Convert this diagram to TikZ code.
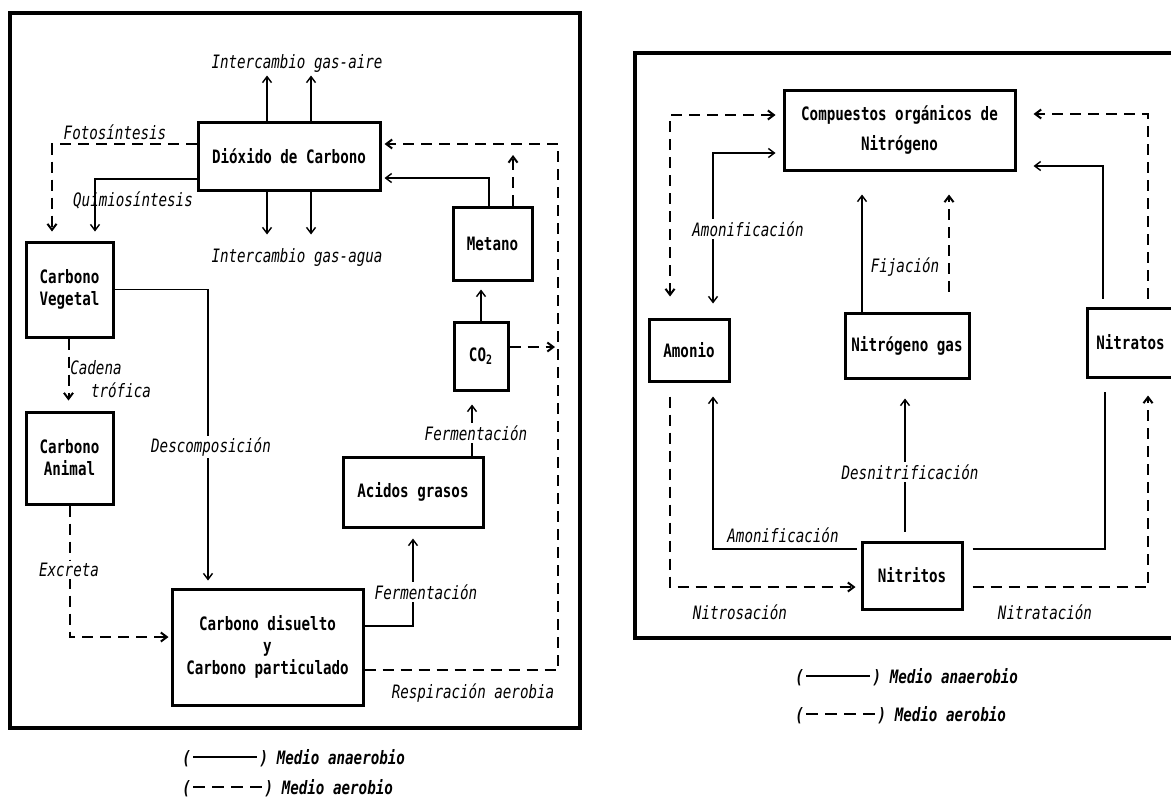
\documentclass[tikz,border=0pt]{standalone}
\usepackage{fontspec}
\setmainfont{DejaVu Sans Mono}
\usepackage{graphicx}
\usepackage{tikz}
\usetikzlibrary{arrows.meta, calc}
\newcommand\dsize{\fontsize{7.1pt}{11pt}\selectfont}
\newcommand\tx[1]{\scalebox{1}[1.3]{#1}}

\begin{document}
\begin{tikzpicture}[
    x=0.5pt, y=-0.5pt,
    box/.style={draw,line width=1.5pt,inner sep=0pt,align=center,
      font=\dsize\bfseries},
    lbl/.style={font=\dsize\itshape,inner sep=1pt},
    clbl/.style={lbl,fill=white},
    legend/.style={font=\dsize\bfseries\itshape,anchor=west,inner sep=0pt},
    anaer/.style={line width=0.7pt},
    aero/.style={line width=1pt,dash pattern=on 5.5pt off 3.5pt},
    frame/.style={line width=2pt},
    >={Straight Barb[length=3pt,width=4.5pt]}
  ]
  \useasboundingbox (0,0) rectangle (1171,798);
  \clip (0,0) rectangle (1171,798);

  % Ciclo del carbono
  \draw[frame] (10,13) rectangle (580,728);
  \node[box,minimum width=91pt,minimum height=34pt] (dioxido) at (289,156) {\tx{Dióxido de Carbono}};
  \node[box,minimum width=43.5pt,minimum height=47.5pt] (vegetal) at (69.5,289.5) {\tx{Carbono}\\\tx{Vegetal}};
  \node[box,minimum width=43.5pt,minimum height=46pt] (animal) at (69.5,458) {\tx{Carbono}\\\tx{Animal}};
  \node[box,minimum width=95.5pt,minimum height=58pt] (disuelto) at (267.5,647) {\tx{Carbono disuelto}\\\tx{y}\\\tx{Carbono particulado}};
  \node[box,minimum width=70pt,minimum height=35pt] (acidos) at (413,492) {\tx{Acidos grasos}};
  \node[box,minimum width=27pt,minimum height=34pt] (cotwo) at (481,356) {\tx{CO\textsubscript{2}}};
  \node[box,minimum width=39.5pt,minimum height=36.5pt] (metano) at (492.5,243.5) {\tx{Metano}};

  \node[lbl] (aire) at (297,63) {\tx{Intercambio gas-aire}};
  \node[lbl] (agua) at (297,257) {\tx{Intercambio gas-agua}};
  \node[lbl] (foto) at (115,132) {\tx{Fotosíntesis}};
  \node[lbl] (quimio) at (133,200) {\tx{Quimiosíntesis}};
  \node[lbl] (cadena) at (96,368) {\tx{Cadena}};
  \node[lbl] (trofica) at (121,390) {\tx{trófica}};
  \node[lbl] (resp) at (473,693) {\tx{Respiración aerobia}};

  \coordinate (metanotip) at (513,155);
  \coordinate (respcorner) at (558,144);
  \coordinate (cotwoout) at ($(cotwo.east)+(0,-9)$);

  \foreach \dx in {-22,22} {
    \draw[anaer,->] ($(dioxido.north)+(\dx,0)$) -- ($(dioxido.north)+(\dx,-45)$);
    \draw[anaer,->] ($(dioxido.south)+(\dx,0)$) -- ($(dioxido.south)+(\dx,43)$); }
  \draw[aero,->] ($(dioxido.west)+(0,-12)$) -| ($(vegetal.north)+(-17.5,-9)$);
  \draw[anaer,->] ($(dioxido.west)+(0,23)$) -| ($(vegetal.north)+(25.5,-9)$);
  \draw[anaer,->] (vegetal.east) -| ($(disuelto.north)+(-59.5,-7)$);
  \draw[aero,->] ($(vegetal.south)+(-1,0)$) -- ($(animal.north)+(-1,-10)$);
  \draw[aero,->] (animal.south) |- ($(disuelto.west)+(-2,-10)$);
  \draw[anaer,->] ($(disuelto.east)+(0,-21)$) -| ($(acidos.south)+(0,10)$);
  \draw[anaer,->] ($(acidos.north)+(59,0)$) -- ($(cotwo.south)+(-9,13)$);
  \draw[anaer,->] (cotwo.north) -- ($(metano.south)+(-11.5,8)$);
  \draw[anaer,->] ($(metano.north)+(-3.5,0)$) |- ($(dioxido.east)+(3,22)$);
  \draw[aero,->] ($(metano.north)+(20.5,0)$) -- (metanotip);
  \draw[aero,->] ($(disuelto.east)+(0,23)$) -| (respcorner) -- ($(dioxido.east)+(3,-12)$);
  \draw[aero,->,shorten >=1.5pt] (cotwoout) -- (cotwoout -| respcorner);

  \node[clbl] (descomp) at (211,447) {\tx{Descomposición}};
  \node[clbl] (excreta) at (69,570) {\tx{Excreta}};
  \node[clbl] (ferm1) at (426,592) {\tx{Fermentación}};
  \node[clbl] (ferm2) at (476,433) {\tx{Fermentación}};

  \node[legend] (leganaer1) at (182,758) {\tx{(\,\rule[0.6ex]{32pt}{0.8pt}\,) Medio anaerobio}};
  \node[legend] (legaero1) at (182,788) {\tx{(\,\rule[0.6ex]{6pt}{1pt}\hspace{3.5pt}\rule[0.6ex]{6pt}{1pt}\hspace{3.5pt}\rule[0.6ex]{6pt}{1pt}\hspace{3.5pt}\rule[0.6ex]{6pt}{1pt}\,) Medio aerobio}};

  % Ciclo del nitrogeno
  \draw[frame] (635,53) rectangle (1190,638);
  \node[box,minimum width=115.5pt,minimum height=40pt] (compuestos) at (899.5,130) {\tx{Compuestos orgánicos de}\\[4pt]\tx{Nitrógeno}};
  \node[box,minimum width=40pt,minimum height=31pt] (amonio) at (689,350) {\tx{Amonio}};
  \node[box,minimum width=62pt,minimum height=32.5pt] (nitrogas) at (907,345.5) {\tx{Nitrógeno gas}};
  \node[box,minimum width=43.5pt,minimum height=34.5pt] (nitratos) at (1130.5,342.5) {\tx{Nitratos}};
  \node[box,minimum width=50pt,minimum height=33.5pt] (nitritos) at (912,575.5) {\tx{Nitritos}};

  \draw[aero,<->] ($(amonio.north)+(-19,-21)$) |- ($(compuestos.west)+(-7,-15)$);
  \draw[anaer,<->] ($(amonio.north)+(24,-14)$) |- ($(compuestos.west)+(-7,23)$);
  \draw[anaer,->] ($(nitrogas.north)+(-45,0)$) -- ($(compuestos.south)+(-37.5,23)$);
  \draw[aero,->] ($(nitrogas.north)+(42,-20)$) -- ($(compuestos.south)+(49.5,23)$);
  \draw[anaer,->] ($(nitratos.north)+(-27.5,-8)$) |- ($(compuestos.east)+(17,36)$);
  \draw[aero,->] ($(nitratos.north)+(17.5,-8)$) |- ($(compuestos.east)+(17,-16)$);
  \draw[aero,->] ($(amonio.south)+(-19,14)$) |- ($(nitritos.west)+(-5,11.5)$);
  \draw[anaer,->] ($(nitritos.west)+(-4,-26.5)$) -| ($(amonio.south)+(24,14)$);
  \draw[anaer,->] ($(nitritos.north)+(-7,-9)$) -- ($(nitrogas.south)+(-2,19)$);
  \draw[anaer] ($(nitritos.east)+(9,-26.5)$) -| ($(nitratos.south)+(-25.5,13)$);
  \draw[aero,->] ($(nitritos.east)+(9,11.5)$) -| ($(nitratos.south)+(17.5,17)$);

  \node[clbl] (amonif1) at (748,229) {\tx{Amonificación}};
  \node[lbl] (fijacion) at (905,267) {\tx{Fijación}};
  \node[clbl] (desnit) at (910,472) {\tx{Desnitrificación}};
  \node[lbl] (amonif2) at (783,535) {\tx{Amonificación}};
  \node[lbl] (nitrosac) at (740,612) {\tx{Nitrosación}};
  \node[lbl] (nitratac) at (1045,612) {\tx{Nitratación}};

  \node[legend] (leganaer2) at (795,677) {\tx{(\,\rule[0.6ex]{32pt}{0.8pt}\,) Medio anaerobio}};
  \node[legend] (legaero2) at (795,715) {\tx{(\,\rule[0.6ex]{6pt}{1pt}\hspace{3.5pt}\rule[0.6ex]{6pt}{1pt}\hspace{3.5pt}\rule[0.6ex]{6pt}{1pt}\hspace{3.5pt}\rule[0.6ex]{6pt}{1pt}\,) Medio aerobio}};
\end{tikzpicture}
\end{document}
